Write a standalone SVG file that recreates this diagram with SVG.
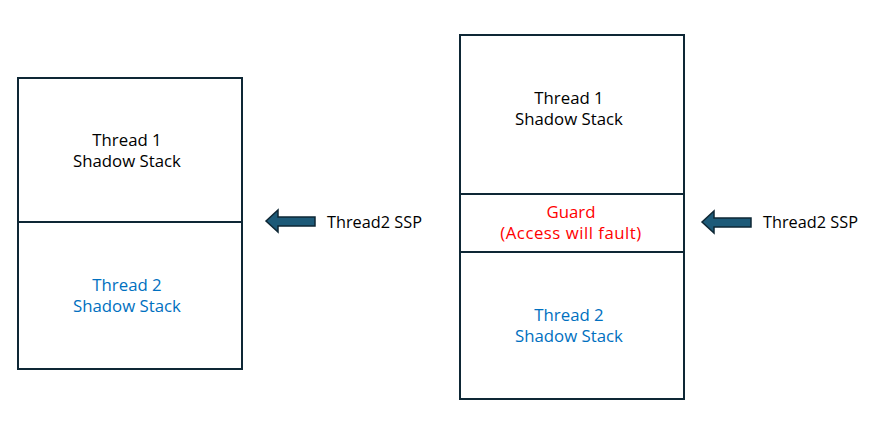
<svg xmlns="http://www.w3.org/2000/svg" width="879" height="443" viewBox="0 0 879 443">
<style>
.box{fill:#fff;stroke:#0e2735;stroke-width:2}
.t{font-family:"Open Sans","DejaVu Sans",sans-serif;font-size:16.8px;text-anchor:middle;fill:#000}
.b{fill:#0070c0}
.r{fill:#ff0000}
.lbl{font-family:"Open Sans","DejaVu Sans",sans-serif;font-size:16.3px;fill:#000}
.arr{fill:#1d5a78;stroke:#0e2735;stroke-width:1.5;stroke-linejoin:miter}
</style>
<rect width="879" height="443" fill="#fff"/>
<g id="left-t1">
<rect class="box" x="18" y="78" width="224" height="144"/>
<text class="t" x="127" y="146">Thread 1</text>
<text class="t" x="127" y="167">Shadow Stack</text>
</g>
<g id="left-t2">
<rect class="box" x="18" y="222" width="224" height="147"/>
<text class="t b" x="127" y="291">Thread 2</text>
<text class="t b" x="127" y="312">Shadow Stack</text>
</g>
<g id="right-t1">
<rect class="box" x="460" y="35" width="224" height="159"/>
<text class="t" x="569" y="104">Thread 1</text>
<text class="t" x="569" y="125">Shadow Stack</text>
</g>
<g id="right-guard">
<rect class="box" x="460" y="194" width="224" height="58"/>
<text class="t r" x="571" y="218">Guard</text>
<text class="t r" x="571" y="239" style="letter-spacing:0.5px">(Access will fault)</text>
</g>
<g id="right-t2">
<rect class="box" x="460" y="252" width="224" height="147"/>
<text class="t b" x="569" y="321">Thread 2</text>
<text class="t b" x="569" y="342">Shadow Stack</text>
</g>
<g id="connectors">
<polygon class="arr" points="266,221 278,210 278,217 315,217 315,226 278,226 278,232"/>
<polygon class="arr" points="702,222 714,211 714,218 751,218 751,227 714,227 714,233"/>
</g>
<g id="labels">
<text class="lbl" x="327" y="228">Thread2 SSP</text>
<text class="lbl" x="763" y="228">Thread2 SSP</text>
</g>
</svg>
